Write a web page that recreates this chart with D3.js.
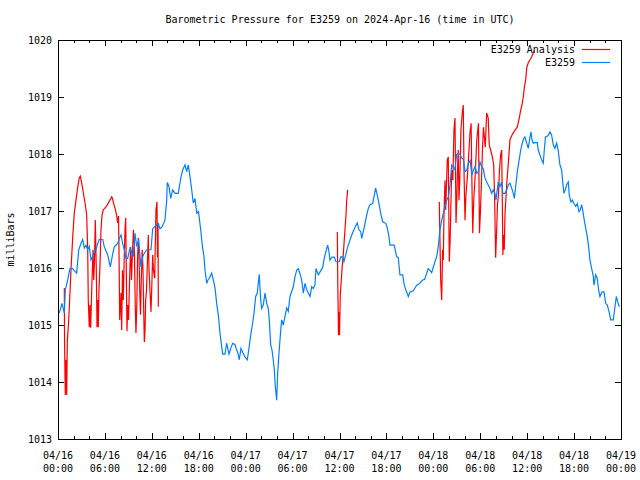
<!DOCTYPE html>
<html><head><meta charset="utf-8">
<script src="https://cdn.jsdelivr.net/npm/d3@7"></script>
<style>
body{margin:0;background:#fff}
svg{display:block}
text{font-family:"DejaVu Sans Mono","Liberation Mono",monospace;font-size:10px;fill:#000}
</style>
</head><body><svg id="c" width="640" height="480"></svg>
<script>
const chartTitle = "Barometric Pressure for E3259 on 2024-Apr-16 (time in UTC)";
const yAxisLabel = "milliBars";
const seriesNames = ["E3259 Analysis", "E3259"];
const seriesColors = ["#ff0000", "#0080ff"];
const startTime = "2024-04-16T00:00:00Z";
const endTime = "2024-04-19T00:00:00Z";
const yTickValues = [1013, 1014, 1015, 1016, 1017, 1018, 1019, 1020];

// [hours since start, millibars]
const stationReadings = [[0.17,1015.21],[0.51,1015.38],[0.81,1015.21],[0.93,1015.61],[1.24,1015.79],[1.53,1015.99],[1.88,1015.99],[2.11,1015.95],[2.39,1015.91],[2.65,1016.32],[2.94,1016.43],[3.16,1016.50],[3.36,1016.35],[3.58,1016.40],[3.80,1016.32],[4.00,1016.38],[4.22,1016.14],[4.44,1016.20],[4.64,1016.29],[4.86,1016.32],[5.08,1016.43],[5.28,1016.50],[5.72,1016.50],[5.92,1016.37],[6.36,1016.23],[6.69,1016.02],[7.00,1016.25],[7.20,1016.37],[7.63,1016.43],[7.84,1016.52],[8.06,1016.58],[8.27,1016.43],[8.48,1016.32],[8.70,1016.17],[8.91,1016.17],[9.21,1016.35],[9.46,1016.26],[9.63,1016.20],[9.85,1016.61],[10.06,1016.38],[10.32,1016.49],[10.61,1016.02],[10.83,1016.20],[11.04,1016.26],[11.34,1016.32],[11.89,1016.32],[12.11,1016.69],[12.53,1016.75],[12.83,1016.78],[13.04,1016.69],[13.30,1016.72],[13.68,1016.84],[13.90,1017.19],[13.98,1017.50],[14.19,1017.43],[14.41,1017.22],[14.67,1017.37],[14.96,1017.31],[15.38,1017.31],[15.69,1017.57],[15.95,1017.72],[16.24,1017.81],[16.46,1017.69],[16.66,1017.81],[16.88,1017.60],[17.10,1017.37],[17.30,1017.14],[17.52,1017.22],[17.74,1016.96],[17.97,1016.99],[18.25,1016.67],[18.45,1016.40],[18.67,1016.20],[18.80,1015.96],[19.02,1015.73],[19.18,1015.79],[19.35,1015.82],[19.65,1015.91],[19.86,1015.79],[20.08,1015.65],[20.29,1015.38],[20.50,1015.18],[20.72,1014.85],[20.93,1014.62],[21.06,1014.49],[21.36,1014.49],[21.57,1014.68],[21.87,1014.49],[22.09,1014.59],[22.34,1014.68],[22.63,1014.66],[22.85,1014.56],[23.02,1014.50],[23.18,1014.39],[23.40,1014.59],[23.70,1014.50],[23.91,1014.44],[24.21,1014.39],[24.42,1014.59],[24.64,1014.82],[24.85,1015.00],[25.06,1015.20],[25.28,1015.50],[25.49,1015.56],[25.61,1015.73],[25.74,1015.89],[25.92,1015.44],[26.04,1015.29],[26.25,1015.35],[26.47,1015.56],[26.69,1015.38],[26.89,1015.29],[27.02,1015.09],[27.20,1014.65],[27.37,1014.56],[27.53,1014.39],[27.66,1014.21],[27.79,1013.92],[27.97,1013.68],[28.09,1014.15],[28.26,1014.50],[28.39,1014.74],[28.52,1014.97],[28.61,1015.09],[28.81,1015.00],[29.03,1015.15],[29.25,1015.30],[29.45,1015.24],[29.67,1015.50],[30.09,1015.67],[30.31,1015.85],[30.52,1015.96],[30.73,1015.99],[30.95,1015.90],[31.16,1015.79],[31.37,1015.56],[31.59,1015.73],[31.80,1015.62],[32.01,1015.56],[32.23,1015.50],[32.44,1015.67],[32.65,1015.64],[32.86,1015.70],[32.99,1015.99],[33.29,1015.88],[33.85,1016.01],[34.05,1016.17],[34.27,1016.29],[34.49,1016.40],[34.65,1016.29],[34.78,1016.14],[35.04,1016.19],[35.33,1016.19],[35.55,1016.11],[35.97,1016.11],[36.19,1016.20],[36.41,1016.19],[36.57,1016.11],[36.79,1016.23],[37.05,1016.37],[37.34,1016.49],[37.56,1016.58],[37.85,1016.67],[38.11,1016.75],[38.27,1016.79],[38.49,1016.67],[38.71,1016.64],[38.84,1016.52],[39.04,1016.64],[39.26,1016.78],[39.48,1016.93],[39.69,1017.05],[39.90,1017.11],[40.24,1017.13],[40.45,1017.28],[40.63,1017.40],[40.83,1017.28],[41.05,1017.13],[41.27,1016.96],[41.53,1016.81],[41.94,1016.78],[42.11,1016.70],[42.29,1016.58],[42.46,1016.40],[43.00,1016.40],[43.31,1016.20],[43.52,1016.18],[43.73,1015.88],[44.08,1015.88],[44.28,1015.70],[44.50,1015.61],[44.80,1015.50],[45.01,1015.58],[45.43,1015.60],[45.87,1015.70],[46.16,1015.72],[46.64,1015.79],[46.89,1015.80],[47.15,1015.91],[47.35,1015.99],[47.57,1015.96],[47.79,1015.92],[48.00,1016.02],[48.21,1016.11],[48.43,1016.20],[48.63,1016.37],[48.85,1016.67],[49.07,1016.84],[49.28,1016.96],[49.50,1017.08],[49.71,1017.19],[49.92,1017.25],[50.13,1017.46],[50.35,1017.81],[50.56,1017.78],[50.77,1017.72],[50.99,1018.00],[51.41,1018.00],[51.63,1017.93],[51.84,1017.90],[52.06,1017.69],[52.28,1017.72],[52.49,1017.84],[52.71,1017.89],[52.92,1017.63],[53.13,1017.72],[53.34,1017.78],[53.56,1017.66],[53.77,1017.69],[53.96,1017.86],[54.18,1017.78],[54.39,1017.74],[54.60,1017.58],[54.82,1017.51],[55.24,1017.40],[55.46,1017.31],[55.66,1017.37],[55.88,1017.31],[56.01,1017.19],[56.30,1017.51],[56.52,1017.43],[56.74,1017.51],[56.87,1017.31],[57.16,1017.31],[57.38,1017.37],[57.59,1017.46],[57.80,1017.49],[58.02,1017.40],[58.23,1017.31],[58.36,1017.22],[58.53,1017.43],[58.74,1017.69],[58.95,1017.87],[59.17,1018.07],[59.37,1018.19],[59.59,1018.28],[59.72,1018.30],[59.94,1018.19],[60.14,1018.10],[60.36,1018.30],[60.49,1018.39],[60.61,1018.25],[60.78,1018.19],[61.00,1018.20],[61.29,1018.20],[61.42,1018.07],[61.64,1017.98],[61.85,1017.90],[62.06,1017.84],[62.19,1018.07],[62.34,1018.30],[62.66,1018.32],[62.92,1018.39],[63.13,1018.33],[63.34,1018.16],[63.55,1018.10],[63.77,1018.19],[63.98,1018.05],[64.19,1017.81],[64.41,1017.72],[64.54,1017.51],[64.71,1017.31],[64.87,1017.37],[65.05,1017.46],[65.26,1017.51],[65.38,1017.28],[65.60,1017.16],[65.79,1017.19],[65.98,1017.13],[66.20,1017.08],[66.41,1017.13],[66.62,1016.99],[66.79,1017.02],[66.97,1017.11],[67.14,1016.99],[67.30,1016.84],[67.52,1016.67],[67.69,1016.55],[67.86,1016.37],[68.03,1016.14],[68.25,1015.99],[68.46,1015.85],[68.54,1015.70],[68.76,1015.88],[68.96,1015.82],[69.14,1015.61],[69.31,1015.50],[69.57,1015.58],[69.82,1015.58],[70.04,1015.38],[70.25,1015.35],[70.46,1015.24],[70.68,1015.09],[71.01,1015.09],[71.23,1015.32],[71.40,1015.50],[71.57,1015.41],[71.78,1015.32]];

// [hours since start, millibars]; null marks a gap in the analysis
const analysisReadings = [[0.81,1015.65],[0.84,1014.70],[0.93,1013.77],[1.02,1014.39],[1.11,1013.77],[1.19,1014.70],[1.37,1015.09],[1.53,1015.56],[1.66,1015.96],[1.88,1016.54],[2.08,1016.96],[2.30,1017.19],[2.52,1017.42],[2.72,1017.58],[2.85,1017.61],[3.03,1017.49],[3.24,1017.32],[3.49,1017.11],[3.67,1016.93],[3.80,1016.32],[3.87,1015.44],[4.00,1014.96],[4.09,1015.35],[4.18,1014.95],[4.31,1015.61],[4.48,1016.32],[4.57,1015.79],[4.67,1016.14],[4.77,1016.84],[4.90,1015.96],[4.99,1014.96],[5.08,1015.44],[5.15,1014.96],[5.24,1015.61],[5.37,1016.05],[5.50,1016.67],[5.63,1016.93],[5.79,1017.02],[6.14,1017.07],[6.52,1017.16],[6.87,1017.25],[6.94,1017.23],[7.16,1017.11],[7.35,1017.02],[7.51,1016.91],[7.63,1016.79],[7.74,1016.91],[7.80,1016.32],[7.89,1015.09],[7.99,1015.35],[8.06,1015.56],[8.14,1014.91],[8.25,1015.96],[8.35,1015.44],[8.48,1016.23],[8.57,1016.67],[8.66,1016.88],[8.73,1016.05],[8.82,1014.89],[8.91,1015.35],[9.02,1015.09],[9.12,1015.61],[9.21,1016.05],[9.30,1016.37],[9.40,1015.79],[9.55,1016.37],[9.65,1016.67],[9.76,1016.40],[9.88,1015.32],[9.97,1014.86],[10.08,1015.35],[10.17,1016.14],[10.27,1016.53],[10.36,1016.23],[10.45,1015.61],[10.55,1015.18],[10.65,1015.79],[10.77,1016.32],[10.87,1015.96],[10.96,1015.26],[11.04,1014.70],[11.13,1014.91],[11.21,1015.44],[11.32,1015.61],[11.42,1016.05],[11.55,1016.58],[11.64,1015.96],[11.76,1015.61],[11.89,1015.23],[11.98,1015.61],[12.11,1016.23],[12.21,1015.96],[12.37,1015.82],[12.44,1016.40],[12.53,1017.02],[12.66,1017.16],[12.72,1016.19],[12.79,1016.79],[12.83,1015.32],
[13.0,null],
[35.72,1016.63],[35.78,1015.74],[35.87,1014.82],[35.93,1015.23],[36.00,1014.82],[36.10,1015.53],[36.23,1015.79],[36.36,1016.05],[36.48,1016.23],[36.61,1016.49],[36.70,1016.67],[36.83,1016.93],[36.92,1017.19],[37.05,1017.37],
[37.2,null],
[48.76,1017.16],[48.87,1016.32],[48.94,1015.79],[49.07,1015.44],[49.13,1015.88],[49.19,1016.32],[49.27,1016.14],[49.36,1016.93],[49.49,1017.54],[49.58,1017.02],[49.66,1017.37],[49.78,1017.89],[49.91,1017.95],[50.04,1016.11],[50.15,1016.49],[50.26,1017.19],[50.35,1017.72],[50.49,1017.54],[50.64,1018.42],[50.77,1018.63],[50.90,1016.79],[51.00,1017.19],[51.09,1017.72],[51.18,1018.07],[51.28,1017.19],[51.38,1017.54],[51.53,1018.42],[51.70,1018.72],[51.83,1018.86],[51.92,1017.72],[52.05,1016.84],[52.17,1017.28],[52.37,1017.63],[52.56,1018.07],[52.69,1018.37],[52.83,1018.54],[52.93,1017.54],[53.04,1016.61],[53.17,1017.19],[53.34,1017.60],[53.56,1018.25],[53.77,1018.54],[53.90,1016.61],[54.03,1017.02],[54.16,1017.54],[54.28,1018.07],[54.41,1018.47],[54.64,1018.12],[54.82,1018.72],[55.02,1018.63],[55.15,1018.16],[55.33,1018.07],[55.54,1017.95],[55.72,1017.81],[55.84,1017.19],[55.97,1016.18],[56.10,1016.67],[56.20,1017.11],[56.31,1017.25],[56.46,1017.72],[56.61,1017.98],[56.74,1018.07],[56.82,1017.19],[56.89,1016.23],[56.98,1016.58],[57.07,1016.32],[57.16,1016.93],[57.38,1017.46],[57.59,1017.84],[57.80,1018.25],[58.02,1018.32],[58.23,1018.37],[58.44,1018.42],[58.73,1018.47],[58.99,1018.63],[59.17,1018.77],[59.34,1018.86],[59.50,1019.00],[59.63,1019.16],[59.81,1019.30],[59.94,1019.51],[60.14,1019.60],[60.36,1019.65],[60.57,1019.70],[60.78,1019.77],[60.91,1019.81]];

const W = 640, H = 480;
const plot = {left: 58, right: 621, top: 40, bottom: 439};
const svg = d3.select("#c");
const t0 = new Date(startTime), t1 = new Date(endTime);
const toDate = h => new Date(t0.getTime() + h * 3600e3);

const x = d3.scaleUtc().domain([t0, t1]).range([plot.left, plot.right]);
const y = d3.scaleLinear().domain([1013, 1020]).range([plot.bottom, plot.top]);

const majorX = d3.utcHour.every(6).range(t0, new Date(t1.getTime() + 1));
const minorX = d3.utcHour.every(2).range(t0, new Date(t1.getTime() + 1)).filter(d => d.getUTCHours() % 6 !== 0);

// frame
svg.append("rect").attr("x", plot.left + 0.5).attr("y", plot.top + 0.5)
  .attr("width", plot.right - plot.left).attr("height", plot.bottom - plot.top)
  .attr("fill", "none").attr("stroke", "#000").attr("stroke-width", 1);

const tickG = svg.append("g").attr("stroke", "#000").attr("stroke-width", 1).attr("shape-rendering", "crispEdges");
function xt(arr, len) {
  arr.forEach(d => {
    const px = Math.round(x(d)) + 0.5;
    tickG.append("line").attr("x1", px).attr("x2", px).attr("y1", plot.bottom).attr("y2", plot.bottom - len);
    tickG.append("line").attr("x1", px).attr("x2", px).attr("y1", plot.top).attr("y2", plot.top + len);
  });
}
xt(majorX, 6); xt(minorX, 3);
yTickValues.forEach(v => {
  const py = Math.round(y(v)) + 0.5;
  tickG.append("line").attr("x1", plot.left).attr("x2", plot.left + 6).attr("y1", py).attr("y2", py);
  tickG.append("line").attr("x1", plot.right).attr("x2", plot.right - 6).attr("y1", py).attr("y2", py);
});

// tick labels
const fmtD = d3.utcFormat("%m/%d"), fmtT = d3.utcFormat("%H:%M");
majorX.forEach(d => {
  const t = svg.append("text").attr("x", x(d)).attr("text-anchor", "middle");
  t.append("tspan").attr("x", x(d)).attr("y", plot.bottom + 20).text(fmtD(d));
  t.append("tspan").attr("x", x(d)).attr("y", plot.bottom + 33).text(fmtT(d));
});
yTickValues.forEach(v => {
  svg.append("text").attr("x", plot.left - 6).attr("y", y(v) + 4).attr("text-anchor", "end").text(v);
});

svg.append("text").attr("x", 340).attr("y", 23).attr("text-anchor", "middle").text(chartTitle);
svg.append("text").attr("transform", `translate(14,${(plot.top + plot.bottom) / 2}) rotate(-90)`)
  .attr("text-anchor", "middle").text(yAxisLabel);

const line = d3.line().defined(d => d[1] !== null).x(d => x(toDate(d[0]))).y(d => y(d[1]));
svg.append("path").datum(analysisReadings).attr("d", line).attr("fill", "none")
  .attr("stroke", seriesColors[0]).attr("stroke-width", 1.2);
svg.append("path").datum(stationReadings).attr("d", line).attr("fill", "none")
  .attr("stroke", seriesColors[1]).attr("stroke-width", 1.2);

// legend
seriesNames.forEach((n, i) => {
  const ly = 49 + i * 13;
  svg.append("text").attr("x", 575).attr("y", ly + 4).attr("text-anchor", "end").text(n);
  svg.append("line").attr("x1", 582).attr("x2", 610).attr("y1", ly + 0.5).attr("y2", ly + 0.5)
    .attr("stroke", seriesColors[i]).attr("stroke-width", 1.2);
});
</script></body></html>
